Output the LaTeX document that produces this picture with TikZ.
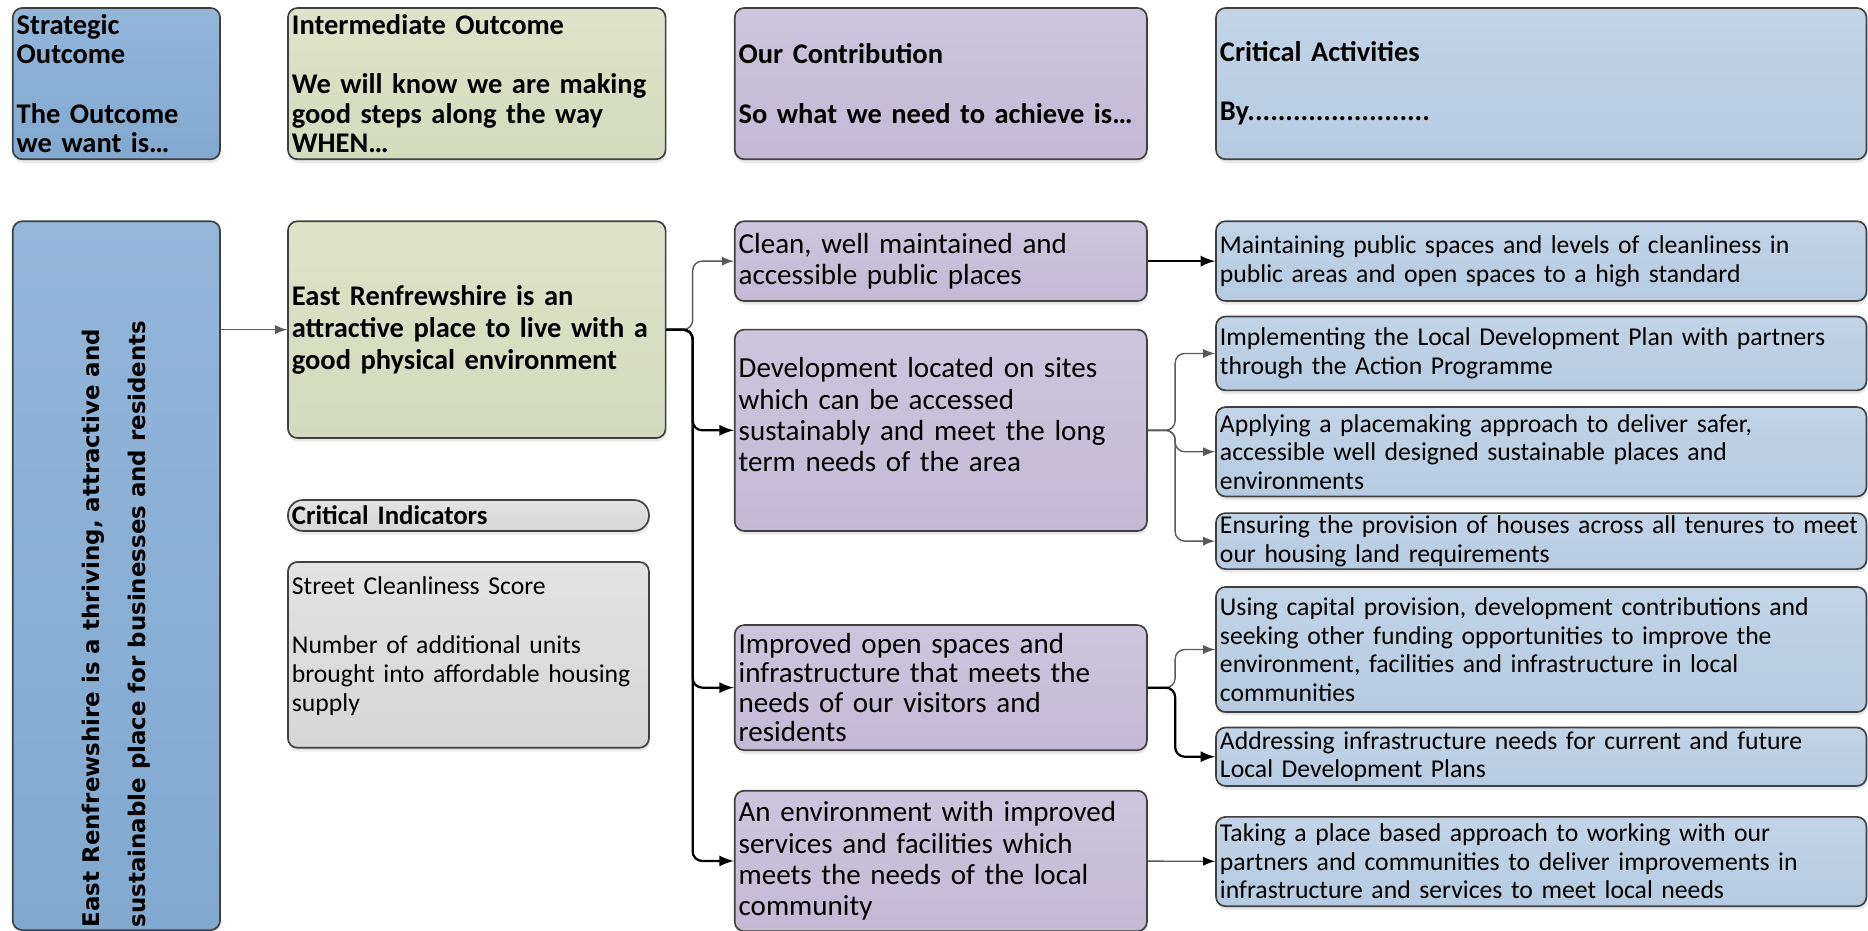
\documentclass[tikz,border=0pt]{standalone}
\usepackage{fontspec}
\setmainfont{Carlito}
\newfontfamily\vertfont{DejaVu Sans}
\usepackage{tikz}
\usetikzlibrary{arrows,shadows}
\definecolor{boxline}{HTML}{404040}
\definecolor{stratbluet}{HTML}{93B6D9}
\definecolor{stratblueb}{HTML}{82A9CF}
\definecolor{intergreent}{HTML}{DEE3C9}
\definecolor{intergreenb}{HTML}{D4DABD}
\definecolor{contribpurplet}{HTML}{CDC5DD}
\definecolor{contribpurpleb}{HTML}{C3B9D5}
\definecolor{actbluet}{HTML}{C2D4E6}
\definecolor{actblueb}{HTML}{B6CBE1}
\definecolor{indgreyt}{HTML}{E3E3E3}
\definecolor{indgreyb}{HTML}{D6D6D6}
\definecolor{conngrey}{HTML}{595959}
\hyphenpenalty=10000
\exhyphenpenalty=10000

\begin{document}
\begin{tikzpicture}[x=0.015cm, y=-0.015cm,
  box/.style={draw=boxline, line width=0.6pt, rounded corners=0.12cm, anchor=north west, align=left,
    inner xsep=0.05cm, inner ysep=0pt, drop shadow={shadow xshift=0.3pt, shadow yshift=-1.3pt, opacity=0.18}},
  headbox/.style={box, minimum height=1.905cm, font=\fontsize{10.2}{10.6}\selectfont\bfseries},
  stratcol/.style={top color=stratbluet, bottom color=stratblueb, text width=2.51cm},
  intercol/.style={top color=intergreent, bottom color=intergreenb, text width=4.655cm},
  contribcol/.style={top color=contribpurplet, bottom color=contribpurpleb, text width=5.09cm},
  actcol/.style={top color=actbluet, bottom color=actblueb, text width=8.09cm},
  indcol/.style={top color=indgreyt, bottom color=indgreyb, text width=4.445cm},
  contribbox/.style={box, contribcol, font=\fontsize{10.4}{11.2}\selectfont},
  actbox/.style={box, actcol, font=\fontsize{9.2}{10.2}\selectfont},
  conn/.style={draw=conngrey, line width=0.5pt, -latex, rounded corners=0.12cm},
  connb/.style={conn, draw=black, line width=0.8pt}]

\useasboundingbox (0,0) rectangle (1568,781);

\node[headbox, stratcol] (hstrat) at (10,6) {Strategic\\Outcome\\~\\The Outcome\\we want is…};
\node[headbox, intercol] (hinter) at (241,6) {Intermediate Outcome\\~\\We will know we are making\\good steps along the way\\WHEN…};
\node[headbox, contribcol] (hcontrib) at (616,6) {Our Contribution\\~\\So what we need to achieve is…};
\node[headbox, actcol] (hact) at (1020,6) {Critical Activities\\~\\By........................};

\node[box, top color=stratbluet, bottom color=stratblueb, minimum width=2.61cm, minimum height=8.925cm, inner sep=0pt] (strat) at (10,185)
  {\rotatebox{90}{\parbox{8.85cm}{\raggedright\vertfont\bfseries\fontsize{8.2}{16.5}\selectfont
  East Renfrewshire is a thriving, attractive and\\sustainable place for businesses and residents}}};

\node[box, intercol, minimum height=2.73cm, font=\fontsize{10.2}{11.5}\selectfont\bfseries] (inter) at (241,185)
  {East Renfrewshire is an\\attractive place to live with a\\good physical environment};
\node[box, indcol, minimum height=0.39cm, rounded corners=0.19cm, font=\fontsize{9.6}{10.5}\selectfont\bfseries] (indhead) at (241,419)
  {Critical Indicators};
\node[box, indcol, minimum height=2.34cm, font=\fontsize{9.2}{10.5}\selectfont] (ind) at (241,471)
  {Street Cleanliness Score\\~\\Number of additional units\\brought into affordable housing\\supply\\[-2.8pt]~};

\node[contribbox, minimum height=1.005cm] (c1) at (616,185) {Clean, well maintained and\\accessible public places};
\node[contribbox, minimum height=2.535cm] (c2) at (616,276) {Development located on sites\\which can be accessed\\sustainably and meet the long\\term needs of the area\\~};
\node[contribbox, minimum height=1.575cm, font=\fontsize{10.4}{10.5}\selectfont] (c3) at (616,524) {Improved open spaces and\\infrastructure that meets the\\needs of our visitors and\\residents};
\node[contribbox, minimum height=1.77cm] (c4) at (616,663) {An environment with improved\\services and facilities which\\meets the needs of the local\\community};

\node[actbox, minimum height=1.005cm] (a1) at (1020,185) {Maintaining public spaces and levels of cleanliness in\\public areas and open spaces to a high standard};
\node[actbox, minimum height=0.93cm] (a2) at (1020,265) {Implementing the Local Development Plan with partners\\through the Action Programme};
\node[actbox, minimum height=1.125cm] (a3) at (1020,341) {Applying a placemaking approach to deliver safer,\\accessible well designed sustainable places and\\environments};
\node[actbox, minimum height=0.705cm] (a4) at (1020,430) {Ensuring the provision of houses across all tenures to meet\\our housing land requirements};
\node[actbox, minimum height=1.575cm] (a5) at (1020,492) {Using capital provision, development contributions and\\seeking other funding opportunities to improve the\\environment, facilities and infrastructure in local\\communities};
\node[actbox, minimum height=0.735cm] (a6) at (1020,610) {Addressing infrastructure needs for current and future\\Local Development Plans};
\node[actbox, minimum height=1.125cm] (a7) at (1020,685) {Taking a place based approach to working with our\\partners and communities to deliver improvements in\\infrastructure and services to meet local needs};

\coordinate (sp1) at ([xshift=0.33cm]inter.east);
\coordinate (sp2) at ([xshift=0.345cm]c2.east);
\coordinate (sp3) at ([xshift=0.345cm]c3.east);

\draw[conn] (strat.east |- inter.west) -- (inter.west);
\draw[conn] (inter.east) -- (sp1) |- (c1.west);
\draw[connb] (inter.east) -- (sp1) |- (c2.west);
\draw[connb] (inter.east) -- (sp1) |- (c3.west);
\draw[connb] (inter.east) -- (sp1) |- (c4.west);
\draw[conn] (c2.east) -- (sp2) |- (a2.west);
\draw[conn] (c2.east) -- (sp2) |- (a3.west);
\draw[conn] (c2.east) -- (sp2) |- (a4.west);
\draw[conn] (c3.east) -- (sp3) |- (a5.west);
\draw[connb] (c3.east) -- (sp3) |- (a6.west);
\path[connb]
  (c1) edge (a1)
  ;
\path[conn]
  (c4) edge (a7)
  ;
\end{tikzpicture}
\end{document}
